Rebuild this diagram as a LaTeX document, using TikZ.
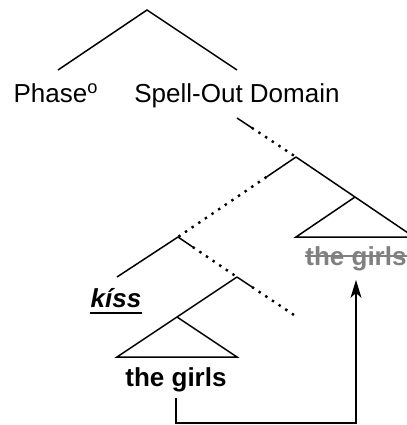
\documentclass[tikz,border=0pt]{standalone}
\usepackage{fontspec}
\setmainfont{Liberation Sans}
\usetikzlibrary{arrows.meta,calc}
\tikzset{
  branch/.style={line width=0.75pt},
  dotbranch/.style={line width=1.2pt,dash pattern=on 1.2pt off 2.8pt},
  word/.style={anchor=base,inner sep=0pt,font=\fontsize{13}{16}\selectfont},
  movearrow/.style={line width=0.65pt,-{Stealth[length=9pt,width=5.5pt,inset=2.5pt]}},
}
\begin{document}
\begin{tikzpicture}[x=0.5pt,y=-0.5pt]
  \useasboundingbox (0,0) rectangle (407,425);

  % phase head and spell-out domain
  \coordinate (top) at (147,10);
  \coordinate (phase) at (58,70);
  \coordinate (domain) at (237,70);
  \draw[branch] (phase) -- (top) -- (domain);
  \node[word] (phaselab) at (56,102) {Phase\textsuperscript{o}};
  \node[word] (domainlab) at (237,102) {Spell-Out Domain};

  % spine below the domain
  \coordinate (dtop) at (237,118);
  \coordinate (xp) at (296,157);
  \coordinate (yp) at (178,237);
  \coordinate (zp) at (237,277);
  \coordinate (zend) at (297,317);
  \coordinate (vtip) at (117,277);
  \draw[branch] (dtop) -- ($(dtop)!0.25!(xp)$);
  \draw[dotbranch] ($(dtop)!0.25!(xp)$) -- (xp);
  \draw[branch] (xp) -- ($(xp)!0.25!(yp)$);
  \draw[dotbranch] ($(xp)!0.25!(yp)$) -- (yp);
  \draw[branch] (yp) -- ($(yp)!0.25!(zp)$);
  \draw[dotbranch] ($(yp)!0.25!(zp)$) -- (zp);
  \draw[branch] (zp) -- ($(zp)!0.25!(zend)$);
  \draw[dotbranch] ($(zp)!0.25!(zend)$) -- (zend);
  \draw[branch] (yp) -- (vtip);

  % raised copy (right triangle)
  \coordinate (rapex) at (355,197);
  \coordinate (rleft) at (296,237);
  \coordinate (rright) at (414,237);
  \draw[branch] (xp) -- (rright) -- (rleft) -- (rapex);
  \node[word,text=black!50] (copy) at (356,265) {\textbf{the girls}};
  \draw[black!50,line width=1pt] ([yshift=4.5pt]copy.base west) -- ([yshift=4.5pt]copy.base east);

  % verb
  \node[word] (verb) at (116,307) {\textbf{\textit{kíss}}};
  \draw[line width=1pt] ([yshift=-3pt]verb.base west) -- ([yshift=-3pt]verb.base east);

  % object (left triangle)
  \coordinate (lapex) at (177,317);
  \coordinate (lleft) at (117,357);
  \coordinate (lright) at (237,357);
  \draw[branch] (zp) -- (lleft) -- (lright) -- (lapex);
  \node[word] (obj) at (176,386) {\textbf{the girls}};

  % movement
  \coordinate (trace) at (356,423);
  \draw[movearrow] ([yshift=-3pt]obj.south) |- (trace) -- ([yshift=-4.5pt]copy.south);
\end{tikzpicture}
\end{document}
